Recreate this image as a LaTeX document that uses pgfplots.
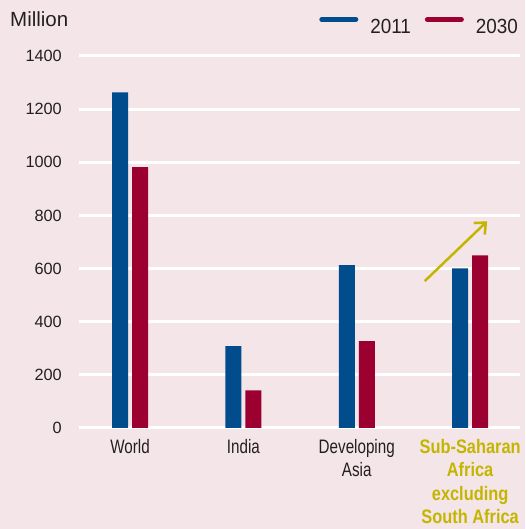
\documentclass[border=0pt]{standalone}
\usepackage{fontspec}
\setmainfont{Liberation Sans}
\newfontfamily\condfont{Liberation Sans}[FakeStretch=0.78]
\newfontfamily\condbold{Liberation Sans}[FakeStretch=0.84]
\newfontfamily\legfont{Liberation Sans}[FakeStretch=0.92]
\usepackage{pgfplots}
\pgfplotsset{compat=1.18}
\usetikzlibrary{arrows.meta}
\definecolor{bg}{RGB}{244,229,232}
\definecolor{cblue}{RGB}{0,76,140}
\definecolor{cred}{RGB}{155,0,48}
\definecolor{ssa}{RGB}{196,182,0}
\definecolor{txt}{RGB}{35,31,32}
\begin{document}
\begin{tikzpicture}
\fill[bg] (0,0) rectangle (525pt,529pt);
\node[anchor=base west, inner sep=0pt, font=\fontsize{20.5}{24}\selectfont, text=txt] at (10pt,502pt) {Million};
\begin{axis}[
  at={(79pt,101pt)}, anchor=south west,
  scale only axis, width=441pt, height=372pt,
  xmin=-0.45, xmax=3.44, ymin=0, ymax=1400,
  ybar=4pt, bar width=16pt,
  axis line style={draw=none},
  major tick length=0pt,
  ytick={0,200,...,1400},
  ymajorgrids, grid style={white, line width=3pt},
  /pgf/number format/1000 sep={},
  /pgf/number format/assume math mode=true,
  yticklabel style={anchor=east, inner sep=0pt, xshift=-17pt, font=\fontsize{16.3}{19}\selectfont, text=txt},
  xtick={0,1,2,3},
  xticklabels={World, India, {Developing\\Asia},
    {{\condbold\bfseries\color{ssa}Sub-Saharan}\\{\condbold\bfseries\color{ssa}Africa}\\{\condbold\bfseries\color{ssa}excluding}\\{\condbold\bfseries\color{ssa}South Africa}}},
  xticklabel style={anchor=north, inner sep=0pt, yshift=-11pt, align=center, font=\condfont\fontsize{19.5}{23.5}\selectfont, text=txt},
  legend columns=2,
  legend style={at={(axis description cs:0.9955,1.0565)}, anchor=south east, draw=none, fill=none, inner sep=0pt,
    nodes={inner sep=0pt}, font=\legfont\fontsize{20.5}{24}\selectfont, text=txt,
    /tikz/every even column/.append style={column sep=14pt}},
]
\addplot[fill=cblue, draw=none,
  legend image code/.code={\path (0pt,0pt) (51pt,14pt); \draw[cblue, line width=5pt, line cap=round] (2.5pt,7.4pt) -- (36.5pt,7.4pt);}]
  coordinates {(0,1263) (1,308) (2,613) (3,601)};
\addlegendentry{2011}
\addplot[fill=cred, draw=none,
  legend image code/.code={\path (0pt,0pt) (51pt,14pt); \draw[cred, line width=5pt, line cap=round] (2.5pt,7.4pt) -- (36.5pt,7.4pt);}]
  coordinates {(0,982) (1,142) (2,327) (3,650)};
\addlegendentry{2030}
\draw[ssa, line width=2.5pt, -{Straight Barb[length=9pt,width=16pt,line width=2.5pt]}] (axis cs:2.60,553) -- (axis cs:3.15,778);
\end{axis}
\end{tikzpicture}
\end{document}
